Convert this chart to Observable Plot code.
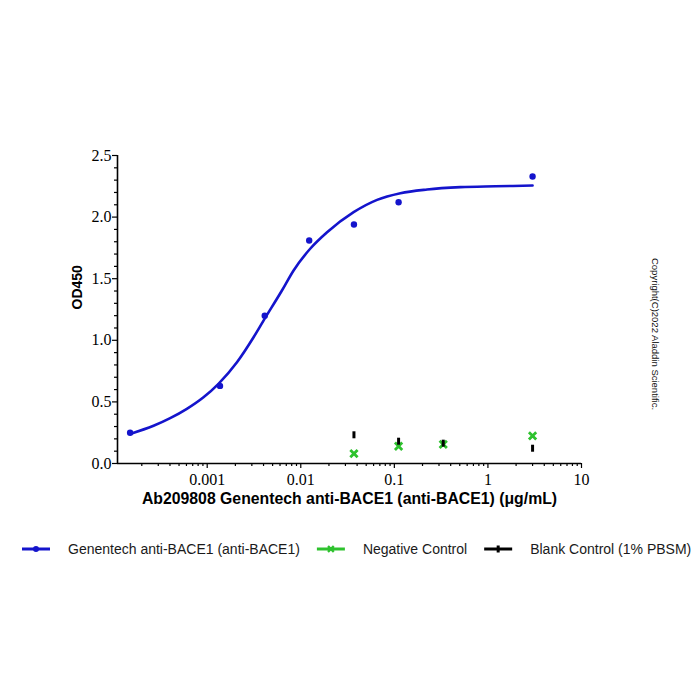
<!DOCTYPE html>
<html><head><meta charset="utf-8">
<script src="https://cdn.jsdelivr.net/npm/d3@7"></script>
<script src="https://cdn.jsdelivr.net/npm/@observablehq/plot@0.6"></script>
<style>
html,body{margin:0;padding:0;background:#fff;}
#wrap{position:relative;width:700px;height:700px;overflow:hidden;background:#fff;}
#chart svg, #legend svg{display:block;}
#copy{position:absolute;left:655px;top:334px;transform:translate(-50%,-50%) rotate(90deg);font:9.5px "Liberation Sans",Arial,sans-serif;white-space:nowrap;color:#111;}
</style></head><body>
<div id="wrap"><div id="chart"></div><div id="legend"></div><div id="copy"></div></div>
<script>
// ---- data ----
const seriesNames = ["Genentech anti-BACE1 (anti-BACE1)", "Negative Control", "Blank Control (1% PBSM)"];
const concSample = [0.00015, 0.00137, 0.00412, 0.0123, 0.037, 0.111, 3];
const odSample = [0.25, 0.63, 1.20, 1.81, 1.94, 2.12, 2.33];
const concFit = [0.00015, 0.000267, 0.000402, 0.000606, 0.000913, 0.00132, 0.00208, 0.00313, 0.0040, 0.00629, 0.00838, 0.0126, 0.0191, 0.0367, 0.0654, 0.116, 0.224, 0.508, 1.2, 3];
const odFit = [0.24, 0.306, 0.368, 0.444, 0.538, 0.647, 0.822, 1.025, 1.16, 1.404, 1.567, 1.743, 1.877, 2.04, 2.14, 2.194, 2.224, 2.243, 2.25, 2.256];
const concCtrl = [0.037, 0.111, 0.333, 3];
const odNegative = [0.08, 0.14, 0.155, 0.225];
const odBlank = [0.233, 0.181, 0.165, 0.124];
const yTicks = [0, 0.5, 1.0, 1.5, 2.0, 2.5];
const yMinorTicks = [0.1,0.2,0.3,0.4,0.6,0.7,0.8,0.9,1.1,1.2,1.3,1.4,1.6,1.7,1.8,1.9,2.1,2.2,2.3,2.4];
const xTicks = [0.001, 0.01, 0.1, 1, 10];
const xTickLabels = ["0.001", "0.01", "0.1", "1", "10"];
const xDomain = [0.00011, 10];
const xTitle = "Ab209808 Genentech anti-BACE1 (anti-BACE1) (\u03bcg/mL)";
const yTitle = "OD450";
const copyright = "Copyright(C)2022 Aladdin Scientific.";

// ---- styles ----
const BLUE = "#1414cc", GREEN = "#2ec22e", BLACK = "#000";
const SANS = '"Liberation Sans", Arial, sans-serif';
const SERIF = '"Liberation Serif", "Times New Roman", serif';

const xMinorTicks = [];
for (let e = -4; e <= 0; e++) for (let k = 2; k <= 9; k++) xMinorTicks.push(+(k * Math.pow(10, e)).toPrecision(3));

const sample = concSample.map((c, i) => ({conc: c, od: odSample[i]}));
const fit = concFit.map((c, i) => ({conc: c, od: odFit[i]}));
const neg = concCtrl.map((c, i) => ({conc: c, od: odNegative[i]}));
const blank = concCtrl.map((c, i) => ({conc: c, od: odBlank[i]}));

const barSymbol = {draw(ctx) { ctx.moveTo(-1.5, -3.5); ctx.lineTo(1.5, -3.5); ctx.lineTo(1.5, 3.5); ctx.lineTo(-1.5, 3.5); ctx.closePath(); }};

const plot = Plot.plot({
  width: 700, height: 530,
  marginTop: 155, marginBottom: 67, marginLeft: 117, marginRight: 119,
  style: {fontFamily: SERIF, fontSize: "16px", color: "#000", background: "#fff", overflow: "visible"},
  x: {type: "log", domain: xDomain},
  y: {domain: [0, 2.5]},
  marks: [
    Plot.axisY(yMinorTicks, {tickSize: 3, text: null, label: null, strokeWidth: 1.2}),
    Plot.axisY(yTicks, {tickSize: 5, tickPadding: 1, strokeWidth: 1.2, tickFormat: d3.format(".1f"), label: null, fontSize: 16, fontFamily: SERIF}),
    Plot.axisX(xMinorTicks, {tickSize: 3, text: null, label: null, strokeWidth: 1.2}),
    Plot.axisX(xTicks, {tickSize: 5, tickPadding: 5, strokeWidth: 1.2, tickFormat: d => xTickLabels[xTicks.indexOf(d)], label: null, fontSize: 16, fontFamily: SERIF}),
    Plot.ruleY([0], {strokeWidth: 1.6}),
    Plot.ruleX([xDomain[0]], {strokeWidth: 1.6}),
    Plot.text([yTitle], {text: d => d, frameAnchor: "left", dx: -40, rotate: -90, fontWeight: "bold", fontSize: 14, fontFamily: SANS, fill: "#000"}),
    Plot.text([xTitle], {text: d => d, frameAnchor: "bottom", dy: 40, fontWeight: "bold", fontSize: 15.8, fontFamily: SANS, fill: "#000"}),
    Plot.line(fit, {x: "conc", y: "od", stroke: BLUE, strokeWidth: 2.6, curve: "monotone-x"}),
    Plot.dot(sample, {x: "conc", y: "od", r: 3.2, fill: BLUE, stroke: "none"}),
    Plot.dot(neg, {x: "conc", y: "od", symbol: "times", r: 3.4, stroke: GREEN, strokeWidth: 2.8}),
    Plot.dot(blank, {x: "conc", y: "od", symbol: barSymbol, r: 3, fill: BLACK, stroke: "none"})
  ]
});
document.getElementById("chart").appendChild(plot);
document.getElementById("copy").textContent = copyright;

// ---- legend ----
const lsvg = d3.select("#legend").append("svg").attr("width", 700).attr("height", 40);
const colors = [BLUE, GREEN, BLACK];
let cx = 22;
const ly = 19;
seriesNames.forEach((name, i) => {
  const g = lsvg.append("g");
  g.append("line").attr("x1", cx).attr("x2", cx + 28).attr("y1", ly).attr("y2", ly).attr("stroke", colors[i]).attr("stroke-width", 3);
  const mx = cx + 14;
  if (i === 0) g.append("circle").attr("cx", mx).attr("cy", ly).attr("r", 3).attr("fill", colors[i]);
  if (i === 1) g.append("path").attr("d", d3.symbol(d3.symbolTimes, 24)()).attr("transform", `translate(${mx},${ly})`).attr("stroke", colors[i]).attr("stroke-width", 2.4).attr("fill", "none");
  if (i === 2) g.append("rect").attr("x", mx - 1.5).attr("y", ly - 3.5).attr("width", 3).attr("height", 7).attr("fill", colors[i]);
  const t = g.append("text").attr("x", cx + 46).attr("y", ly).attr("dy", "0.35em").attr("font-family", SANS).attr("font-size", 14).attr("fill", "#1a1a1a").text(name);
  const w = t.node().getComputedTextLength();
  cx = cx + 46 + w + 17;
});
</script>
</body></html>
